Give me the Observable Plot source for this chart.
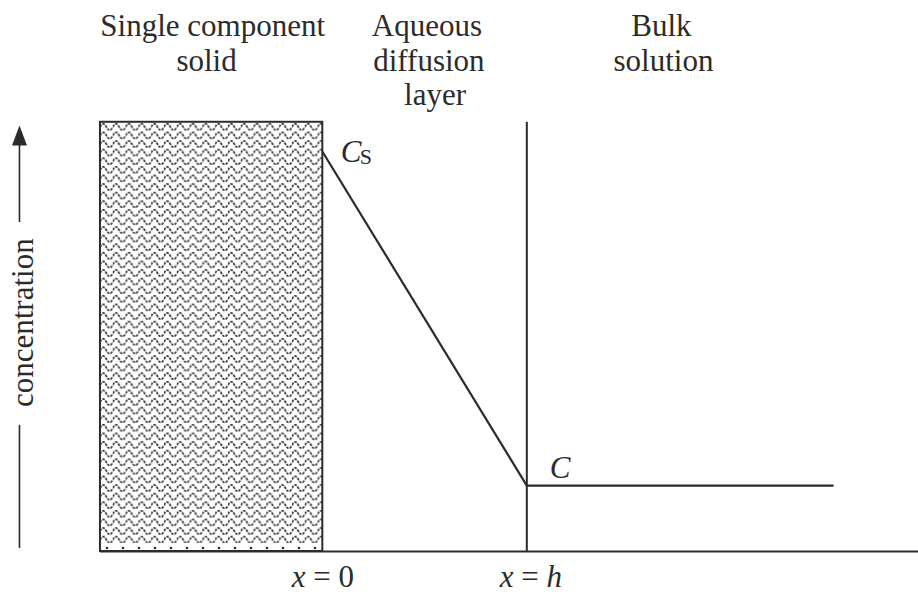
<!DOCTYPE html>
<html>
<head>
<meta charset="utf-8">
<script src="https://cdn.jsdelivr.net/npm/d3@7"></script>
<script src="https://cdn.jsdelivr.net/npm/@observablehq/plot@0.6"></script>
<style>
  body { margin: 0; background: #fff; }
</style>
</head>
<body>
<div id="chart"></div>
<script>
// Dissolution of a single-component solid through a stagnant diffusion layer.
// x is measured in units of the layer thickness h; concentration is relative to Cs.

// concentration profile: Cs at the solid surface, linear fall to C at x = h, flat in the bulk
const profileX = [0, 1, 2.5];
const profileY = [1, 0.165, 0.165];

// extent of the solid block and of the drawing
const solidX = [-1.09, 0];
const topY = 1.075;
const layerEdgeX = 1;
const baselineX = [-1.09, 2.92];

// region headings, one entry per printed line
const regionLines = ["Single component", "solid", "Aqueous", "diffusion", "layer", "Bulk", "solution"];
const regionLineX = [-0.54, -0.57, 0.51, 0.52, 0.55, 1.66, 1.67];
const regionLineRow = [0, 1, 0, 1, 2, 0, 1];

// position markers under the baseline
const positionLabels = ["x = 0", "x = h"];
const positionX = [0, 1.02];

// vertical axis caption
const axisLabel = "concentration";
const axisX = -1.487;

const ink = "#2b2b2b";
const font = "'Liberation Serif', 'Times New Roman', Times, serif";
const fontSize = 31;

// wavy hatching for the solid, with a row of grains along its base
function patternDefs() {
  const defs = d3.create("svg:defs");
  const p = defs.append("pattern")
    .attr("id", "wave")
    .attr("patternUnits", "userSpaceOnUse")
    .attr("width", 12.8)
    .attr("height", 8.6)
    .attr("x", 100)
    .attr("y", 122);
  p.append("rect").attr("width", 12.8).attr("height", 8.6).attr("fill", "#fff");
  p.append("path")
    .attr("d", "M0,5 C2.1,0.8 4.3,0.8 6.4,5 S10.7,9.2 12.8,5")
    .attr("fill", "none")
    .attr("stroke", "#333")
    .attr("stroke-width", 1.7)
    .attr("stroke-dasharray", "2.6 1.1");
  const g = defs.append("pattern")
    .attr("id", "grains")
    .attr("patternUnits", "userSpaceOnUse")
    .attr("width", 16)
    .attr("height", 8)
    .attr("x", 99)
    .attr("y", 544);
  g.append("rect").attr("width", 16).attr("height", 8).attr("fill", "#fff");
  g.append("circle").attr("cx", 8).attr("cy", 4).attr("r", 1.3).attr("fill", "#333");
  return defs.node();
}

// filled arrowhead for the axis caption
const arrowHead = {
  draw(ctx) {
    ctx.moveTo(0, -10);
    ctx.lineTo(7.5, 10);
    ctx.lineTo(-7.5, 10);
    ctx.closePath();
  }
};

const rowStep = 0.0864;
const firstRowY = 1.3148;

const chart = Plot.plot({
  width: 918,
  height: 594,
  marginTop: 0,
  marginRight: 0,
  marginBottom: 43,
  marginLeft: 0,
  x: { domain: [-1.58, 2.92], axis: null },
  y: { domain: [0, 1.38], axis: null },
  style: { fontFamily: font, color: ink, background: "#fff", overflow: "visible" },
  marks: [
    patternDefs,
    // solid block
    Plot.rect([{ x1: solidX[0], x2: solidX[1], y1: 0, y2: topY }], {
      x1: "x1", x2: "x2", y1: "y1", y2: "y2",
      fill: "url(#wave)"
    }),
    Plot.rect([{ x1: solidX[0], x2: solidX[1], y1: 0, y2: 0.02 }], {
      x1: "x1", x2: "x2", y1: "y1", y2: "y2",
      fill: "url(#grains)"
    }),
    Plot.rect([{ x1: solidX[0], x2: solidX[1], y1: 0, y2: topY }], {
      x1: "x1", x2: "x2", y1: "y1", y2: "y2",
      fill: "none", stroke: ink, strokeWidth: 2
    }),
    // baseline
    Plot.ruleY([0], { x1: baselineX[0], x2: baselineX[1], stroke: ink, strokeWidth: 2 }),
    // edge of the diffusion layer
    Plot.ruleX([layerEdgeX], { y1: 0, y2: topY, stroke: ink, strokeWidth: 2 }),
    // concentration profile
    Plot.line(profileX.map((x, i) => ({ x, y: profileY[i] })), {
      x: "x", y: "y", stroke: ink, strokeWidth: 2.2
    }),
    // region headings
    Plot.text(regionLines, {
      x: (d, i) => regionLineX[i],
      y: (d, i) => firstRowY - rowStep * regionLineRow[i],
      text: d => d,
      fontSize, fill: ink
    }),
    // Cs label
    Plot.text(["C"], { x: profileX[0], y: profileY[0], text: d => d, textAnchor: "start", dx: 18, fontSize, fontStyle: "italic", fill: ink }),
    Plot.text(["S"], { x: profileX[0], y: profileY[0], text: d => d, textAnchor: "start", dx: 37, dy: 5, fontSize: 22, fill: ink }),
    // C label
    Plot.text(["C"], { x: profileX[1], y: profileY[1], text: d => d, textAnchor: "start", dx: 23, dy: -18, fontSize, fontStyle: "italic", fill: ink }),
    // position markers
    Plot.text(positionLabels, {
      x: (d, i) => positionX[i], y: 0, text: d => d, dy: 26, fontSize, fill: ink,
      className: "pos-label"
    }),
    // axis caption with arrow
    Plot.ruleX([axisX], { y1: 0.0075, y2: 0.316, stroke: ink, strokeWidth: 1.6 }),
    Plot.ruleX([axisX], { y1: 0.824, y2: 1.035, stroke: ink, strokeWidth: 1.6 }),
    Plot.dot([axisX], { x: d => d, y: 1.042, symbol: arrowHead, fill: ink, stroke: "none" }),
    Plot.text([axisLabel], { x: axisX, y: 0.573, text: d => d, rotate: -90, dx: 4, fontSize, fill: ink })
  ]
});

// set the variable names of the position markers in italics
d3.select(chart).selectAll(".pos-label text").each(function () {
  const parts = this.textContent.split(" ");
  const t = d3.select(this).text(null);
  parts.forEach((p, i) => {
    const span = t.append("tspan").text((i ? " " : "") + p);
    if (/^[a-z]$/.test(p)) span.attr("font-style", "italic");
  });
});

document.getElementById("chart").append(chart);
</script>
</body>
</html>
